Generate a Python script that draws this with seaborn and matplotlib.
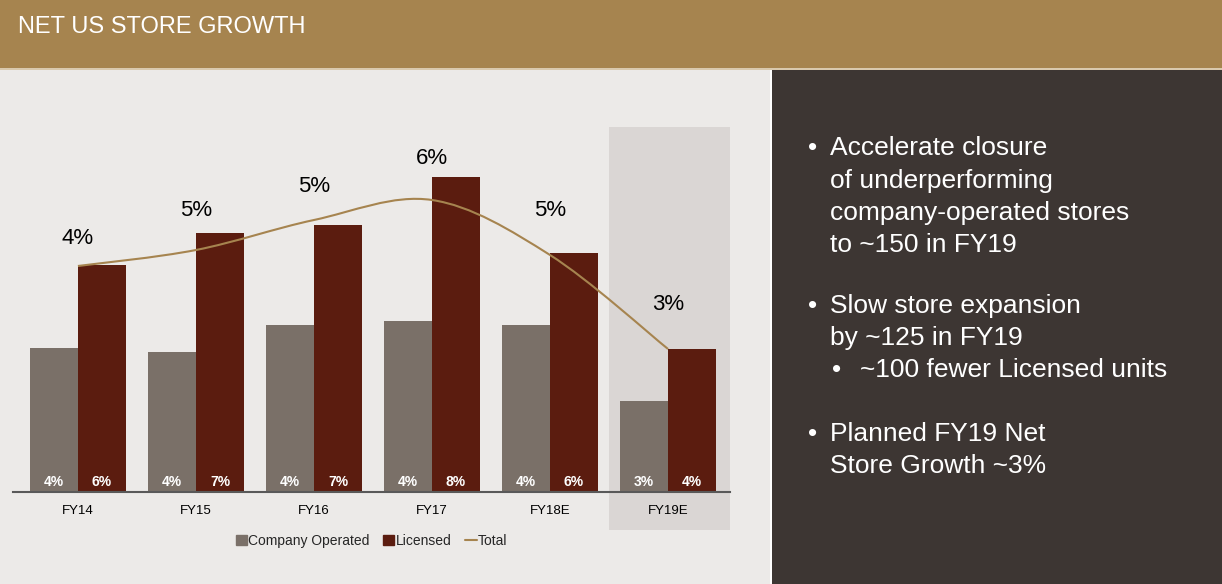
import matplotlib
matplotlib.use('Agg')
import pandas as pd
import matplotlib.pyplot as plt
import seaborn as sns
from matplotlib.path import Path
from matplotlib.patches import PathPatch, Rectangle, Patch
from matplotlib.lines import Line2D

# --- Data (bar heights, arbitrary units) ---
years = ['FY14', 'FY15', 'FY16', 'FY17', 'FY18E', 'FY19E']
company_operated = [144, 140, 167, 171, 167, 91]
licensed = [227, 259, 267, 315, 239, 143]
total = [226, 242, 272, 292, 237, 143]
company_pct = ['4%', '4%', '4%', '4%', '4%', '3%']
licensed_pct = ['6%', '7%', '7%', '8%', '6%', '4%']
total_pct = ['4%', '5%', '5%', '6%', '5%', '3%']

# where the total % labels sit (same units as the bars)
pct_label_height = [254, 282, 306, 334, 282, 188]

# right panel: (bullet x, text x, baseline y in px, bullet, text)
panel_lines = [
    (808, 830, 155, '•', 'Accelerate closure'),
    (None, 830, 188, '', 'of underperforming'),
    (None, 830, 220, '', 'company-operated stores'),
    (None, 830, 252, '', 'to ~150 in FY19'),
    (808, 830, 313, '•', 'Slow store expansion'),
    (None, 830, 345, '', 'by ~125 in FY19'),
    (832, 860, 377, '•', '~100 fewer Licensed units'),
    (808, 830, 441, '•', 'Planned FY19 Net'),
    (None, 830, 473, '', 'Store Growth ~3%'),
]

# --- Colours ---
HEADER = '#A6844F'
PANEL = '#ECEAE8'
DARK = '#3D3633'
SHADE = '#DAD6D4'
GREY = '#7A7068'
RED = '#5B1C0F'
TAN = '#A6844F'

sns.set_theme(style='white')
plt.rcParams['font.family'] = ['Liberation Sans', 'DejaVu Sans']

W, H = 1222, 584
fig = plt.figure(figsize=(W / 100, H / 100), dpi=100)
fig.patch.set_facecolor(PANEL)


def px_rect(x0, y0, x1, y1, color, z=0):
    fig.patches.append(Rectangle((x0 / W, 1 - y1 / H), (x1 - x0) / W, (y1 - y0) / H,
                                 transform=fig.transFigure, color=color, zorder=z, lw=0))


# background blocks
px_rect(0, 0, W, 68, HEADER)
px_rect(0, 68, W, 70, '#D9C9AE')
px_rect(770, 70, 772, H, 'white')
px_rect(772, 70, W, H, DARK)
fig.text(18 / W, 1 - 33 / H, 'NET US STORE GROWTH', color='white', fontsize=17, va='baseline')

# right panel bullets
for bx, tx, y, mark, txt in panel_lines:
    if bx is not None:
        fig.text(bx / W, 1 - y / H, mark, color='white', fontsize=19, va='baseline')
    fig.text(tx / W, 1 - y / H, txt, color='white', fontsize=19, va='baseline')

# --- Chart ---
ax = fig.add_axes([13 / W, 1 - 492 / H, (730 - 13) / W, (492 - 127) / H])
ax.set_facecolor('none')

df = pd.DataFrame({
    'year': years * 2,
    'value': company_operated + licensed,
    'series': ['Company Operated'] * len(years) + ['Licensed'] * len(years),
})
sns.barplot(data=df, x='year', y='value', hue='series', palette=[GREY, RED],
            width=0.814, saturation=1, ax=ax, legend=False, zorder=3, linewidth=0)

ax.set_xlim(-0.55, 5.525)
ax.set_ylim(0, 365)
ax.axvspan(4.5, 5.525, ymin=-0.104, ymax=1, color=SHADE, clip_on=False, zorder=0, lw=0)

# smoothed total line (Catmull-Rom through the points, drawn as Bezier path)
pts = list(enumerate(total))
verts, codes = [pts[0]], [Path.MOVETO]
for i in range(len(pts) - 1):
    p0 = pts[max(i - 1, 0)]
    p1, p2 = pts[i], pts[i + 1]
    p3 = pts[min(i + 2, len(pts) - 1)]
    c1 = (p1[0] + (p2[0] - p0[0]) / 6, p1[1] + (p2[1] - p0[1]) / 6)
    c2 = (p2[0] - (p3[0] - p1[0]) / 6, p2[1] - (p3[1] - p1[1]) / 6)
    verts += [c1, c2, p2]
    codes += [Path.CURVE4] * 3
ax.add_patch(PathPatch(Path(verts, codes), fill=False, edgecolor=TAN, lw=1.5, zorder=4))

# labels
off = 0.407 / 2
for i in range(len(years)):
    ax.text(i - off, 10, company_pct[i], ha='center', va='center', color='white',
            fontsize=10, fontweight='bold', zorder=5)
    ax.text(i + off, 10, licensed_pct[i], ha='center', va='center', color='white',
            fontsize=10, fontweight='bold', zorder=5)
    ax.text(i, pct_label_height[i], total_pct[i], ha='center', va='center', color='black',
            fontsize=16, zorder=5)

sns.despine(ax=ax, left=True, top=True, right=True)
ax.spines['bottom'].set_color('#595959')
ax.spines['bottom'].set_linewidth(1.5)
ax.spines['bottom'].set_zorder(6)
ax.set_yticks([])
ax.set_xlabel('')
ax.set_ylabel('')
ax.tick_params(axis='x', length=0, pad=9, labelsize=9.5, colors='black')

handles = [Patch(color=GREY, label='Company Operated'),
           Patch(color=RED, label='Licensed'),
           Line2D([], [], color=TAN, lw=1.5, label='Total')]
ax.legend(handles=handles, loc='center', bbox_to_anchor=(0.5, -0.134), ncol=3,
          frameon=False, handlelength=0.8, handleheight=0.8, handletextpad=0.1,
          columnspacing=1.0, prop={'size': 10})

fig.savefig('out.png', dpi=100, facecolor=fig.get_facecolor())
